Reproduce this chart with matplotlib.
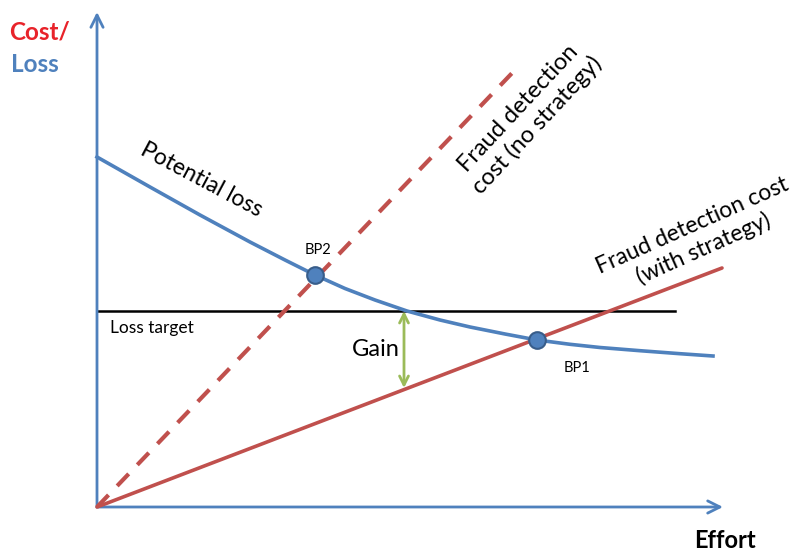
import matplotlib
matplotlib.use("Agg")
import matplotlib.pyplot as plt

# ---- data (conceptual units: effort vs cost/loss) ----
loss_x = [0, 53, 103, 153, 188, 218, 248, 278, 310, 343, 373, 408, 440, 473, 503, 543, 583, 616]
loss_y = [350, 320, 292, 265, 247, 232, 218.5, 207, 196, 187, 180, 173, 167, 162.7, 159.5, 156.3, 153.3, 151]
nostrat_x = [0, 418]
nostrat_y = [0, 437]
strat_x = [0, 625]
strat_y = [0, 239]
target_x = [0, 578]
target_y = 196
bp_x = [440, 218]
bp_y = [167, 232]
bp_labels = ["BP1", "BP2"]
gain_x = 307
gain_y = [196, 119]

BLUE = "#4F81BD"
RED = "#C0504D"
GREEN = "#9BBB59"
FONT = ["Lato", "DejaVu Sans"]

fig = plt.figure(figsize=(8.04, 5.56), dpi=100)
ax = fig.add_axes([0, 0, 1, 1])
ax.set_xlim(-97, 707)
ax.set_ylim(-49, 507)
ax.axis("off")

# axes arrows
ax.annotate("", xy=(0, 495), xytext=(0, 0),
            arrowprops=dict(arrowstyle="->", color=BLUE, lw=2, mutation_scale=22, shrinkA=0, shrinkB=0))
ax.annotate("", xy=(626, 0), xytext=(0, 0),
            arrowprops=dict(arrowstyle="->", color=BLUE, lw=2, mutation_scale=22, shrinkA=0, shrinkB=0))

# lines
ax.plot(target_x, [target_y, target_y], color="black", lw=1.8, zorder=2)
ax.plot(nostrat_x, nostrat_y, color=RED, lw=3, dashes=(4, 3), zorder=3)
ax.plot(strat_x, strat_y, color=RED, lw=2.6, zorder=3, solid_capstyle="round")
ax.plot(loss_x, loss_y, color=BLUE, lw=2.6, zorder=4, solid_joinstyle="round")
ax.plot(bp_x, bp_y, "o", ms=12, mfc=BLUE, mec="#385D8A", mew=1.5, zorder=5)

# gain arrow
ax.annotate("", xy=(gain_x, gain_y[1]), xytext=(gain_x, gain_y[0]),
            arrowprops=dict(arrowstyle="<->", color=GREEN, lw=2, mutation_scale=16, shrinkA=0, shrinkB=0))

# texts
ax.text(-57, 475, "Cost/", color="#E8232A", fontsize=17.5, fontweight="bold", family=FONT, ha="center", va="center")
ax.text(-62, 443, "Loss", color=BLUE, fontsize=17.5, fontweight="bold", family=FONT, ha="center", va="center")
ax.text(628, -34, "Effort", color="black", fontsize=17, fontweight="bold", family=FONT, ha="center", va="center")
ax.text(104, 327, "Potential loss", fontsize=16.5, family=FONT, rotation=-28, ha="center", va="center")
ax.text(bp_x[1] + 3, 257, bp_labels[1], fontsize=10.5, family=FONT, ha="center", va="center")
ax.text(bp_x[0] + 40, 139, bp_labels[0], fontsize=10.5, family=FONT, ha="center", va="center")
ax.text(13, 179, "Loss target", fontsize=12.5, family=FONT, ha="left", va="center")
ax.text(303, 157, "Gain", fontsize=17, family=FONT, ha="right", va="center")
ax.text(431, 390, "Fraud detection\ncost (no strategy)", fontsize=17, family=FONT, rotation=47,
        ha="center", va="center", linespacing=1.2)
ax.text(601, 270, "Fraud detection cost\n(with strategy)", fontsize=16.5, family=FONT, rotation=24,
        ha="center", va="center", linespacing=1.2)

fig.savefig("out.png", dpi=100)
